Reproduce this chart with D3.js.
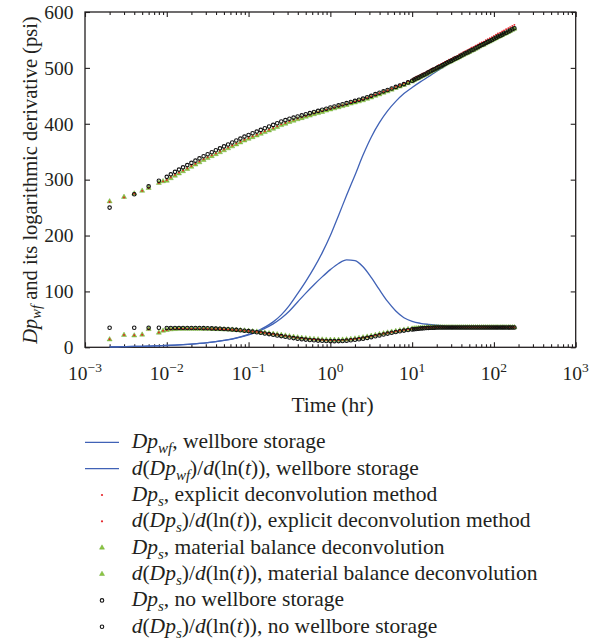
<!DOCTYPE html>
<html><head><meta charset="utf-8">
<script src="https://cdn.jsdelivr.net/npm/d3@7"></script>
<style>
body{margin:0;background:#fff}
svg{display:block}
text{font-family:"Liberation Serif","Times New Roman",serif;fill:#231f20}
</style>
</head><body>
<svg id="chart" width="599" height="644"></svg>
<script>
// ---------- data ----------
const times = [
  0.002, 0.003, 0.004, 0.005, 0.006, 0.008, 0.009,
  0.01, 0.0112, 0.0126, 0.0141, 0.0158, 0.0178, 0.02, 0.0224, 0.0251, 0.0282,
  0.0316, 0.0355, 0.0398, 0.0447, 0.0501, 0.0562, 0.0631, 0.0708, 0.0794, 0.0891,
  0.1, 0.112, 0.126, 0.141, 0.158, 0.178, 0.2, 0.224, 0.251, 0.282,
  0.316, 0.355, 0.398, 0.447, 0.501, 0.562, 0.631, 0.708, 0.794, 0.891,
  1, 1.12, 1.26, 1.41, 1.58, 1.78, 2, 2.24, 2.51, 2.82,
  3.16, 3.55, 3.98, 4.47, 5.01, 5.62, 6.31, 7.08, 7.94, 8.91,
  10,
  10.6, 11.2, 11.9, 12.6, 13.3, 14.1, 15, 15.8, 16.8, 17.8,
  18.8, 20, 21.1, 22.4, 23.7, 25.1, 26.6, 28.2, 29.9, 31.6,
  33.5, 35.5, 37.6, 39.8, 42.2, 44.7, 47.3, 50.1, 53.1, 56.2,
  59.6, 63.1, 66.8, 70.8, 75, 79.4, 84.1, 89.1, 94.4, 100,
  106, 112, 119, 126, 133, 141, 150, 158, 168, 178
];

// Dp_s, no wellbore storage (black circles)
const dpNoStorage = [
  250, null, 274, null, 288, 298, null,
  305, 309.5, 314, 318, 322, 326, 330, 334, 338, 342,
  345.5, 349, 352.5, 356, 359.5, 363, 366.5, 370, 373.5, 377,
  380, 383, 386, 389, 392, 395, 398, 401, 404, 406.5,
  409, 411, 413, 415, 417, 419, 421, 423, 425, 427,
  429, 431, 433, 435, 437, 439, 441, 443, 445, 447.5,
  450, 453, 455.5, 458, 460.5, 463, 466, 468.5, 471, 474,
  477,
  479, 481, 482.5, 484.5, 486.5, 488, 490, 492, 494, 496,
  497.5, 499.5, 501.5, 503, 505, 507, 509, 511, 512.5, 514.5,
  516.5, 518, 520, 522, 524, 526, 527.5, 529.5, 531.5, 533,
  535, 537, 539, 541, 542.5, 544.5, 546.5, 548, 550, 552,
  554, 556, 557.5, 559.5, 561.5, 563, 565, 567, 569, 571
];
// d(Dp_s)/d(ln t), no wellbore storage
const derivNoStorage = [
  35, null, 35, null, 35, 35, null,
  34.5, 34.5, 34.5, 34.5, 34.5, 34.5, 34.5, 34.5, 34.5, 34.3,
  34, 33.8, 33.5, 33.2, 32.8, 32.3, 31.8, 31.2, 30.5, 29.7,
  29, 28, 27, 26, 24.8, 23.6, 22.4, 21.2, 20, 18.8,
  17.6, 16.5, 15.5, 14.6, 13.8, 13.1, 12.5, 12, 11.6, 11.3,
  11.1, 11, 11.1, 11.4, 11.9, 12.6, 13.4, 14.4, 15.5, 16.8,
  18.2, 19.7, 21.3, 22.9, 24.5, 26, 27.4, 28.7, 29.9, 31,
  32,
  32.4, 32.8, 33.2, 33.6, 33.9, 34.2, 34.5, 34.7, 34.9, 35.1,
  35.2, 35.3, 35.4, 35.5, 35.5, 35.5, 35.5, 35.5, 35.5, 35.5,
  35.5, 35.5, 35.5, 35.5, 35.5, 35.5, 35.5, 35.5, 35.5, 35.5,
  35.5, 35.5, 35.5, 35.5, 35.5, 35.5, 35.5, 35.5, 35.5, 35.5,
  35.5, 35.5, 35.5, 35.5, 35.5, 35.5, 35.5, 35.5, 35.5, 35.5
];

// Dp_s, material balance deconvolution (green triangles)
const dpMatBal = [
  261, 269, 275, 280, 285, 294, 297,
  298, 302.5, 307, 311, 315, 319, 323, 327, 331, 335,
  338.5, 342, 345.5, 349, 352.5, 356, 359.5, 363, 366.5, 370,
  373, 376, 379, 382, 385, 388, 391, 394, 397.5, 400,
  403, 405.5, 408, 410, 412.5, 414.5, 417, 419, 421, 423.5,
  425.5, 427.5, 429.5, 431.5, 433.5, 436, 438, 440, 442, 444.5,
  447, 450, 452.5, 455.5, 458, 461, 464, 466.5, 469.5, 472.5,
  475.5,
  478, 480, 481.5, 483.5, 485.5, 487, 489, 491, 493, 495,
  496.5, 498.5, 500.5, 502, 504, 506, 508, 510, 511.5, 513.5,
  515.5, 517, 519, 521, 523, 525, 526.5, 528.5, 530.5, 532,
  534, 536, 538, 540, 541.5, 543.5, 545.5, 547, 549, 551,
  553, 555, 556.5, 558.5, 560.5, 562, 564, 566, 568, 570
];
const derivMatBal = [
  14, 22, 21, 22.5, 32.5, 26, 29.5,
  31, 32, 32.5, 33, 33, 33, 33, 33, 33, 33,
  33, 32.8, 32.6, 32.4, 32.1, 31.8, 31.4, 31, 30.5, 30,
  29.4, 28.6, 27.8, 27, 26, 25, 24, 23, 22, 20.8,
  19.7, 18.6, 17.6, 16.7, 15.9, 15.2, 14.6, 14.1, 13.7, 13.4,
  13.2, 13.1, 13.2, 13.5, 14, 14.7, 15.5, 16.5, 17.6, 18.9,
  20.3, 21.8, 23.3, 24.8, 26.3, 27.7, 29, 30.2, 31.3, 32.3,
  33.2,
  33.6, 34, 34.3, 34.6, 34.9, 35.1, 35.3, 35.5, 35.6, 35.7,
  35.8, 35.8, 35.8, 35.8, 35.8, 35.8, 35.8, 35.8, 35.8, 35.8,
  35.8, 35.8, 35.8, 35.8, 35.8, 35.8, 35.8, 35.8, 35.8, 35.8,
  35.8, 35.8, 35.8, 35.8, 35.8, 35.8, 35.8, 35.8, 35.8, 35.8,
  35.8, 35.8, 35.8, 35.8, 35.8, 35.8, 35.8, 35.8, 35.8, 35.8
];

// Dp_s, explicit deconvolution method (red dots)
const dpExplicit = [
  260, 268, 275, 280, 285, 294, 297,
  299.5, 304, 308.5, 312.5, 316.5, 320.5, 324.5, 328.5, 332.5, 336.5,
  340, 343.5, 347, 350.5, 354, 357.5, 361, 364.5, 368, 371.5,
  374.5, 377.5, 380.5, 383.5, 386.5, 389.5, 392.5, 395.5, 399, 401.5,
  404.5, 407, 409.5, 411.5, 414, 416, 418.5, 420.5, 422.5, 425,
  427, 429, 431, 433, 435, 437.5, 439.5, 441.5, 443.5, 446,
  449, 452, 454.5, 457.5, 460, 463, 466.5, 469.5, 472.5, 476,
  479.5,
  482, 484, 485.5, 487.5, 489.5, 491, 493, 495, 497, 499,
  500.5, 502.5, 505, 506.5, 508.5, 510.5, 512.5, 514.5, 516, 518,
  520, 521.5, 524, 526, 528, 530, 531.5, 533.5, 536, 537.5,
  539.5, 541.5, 543.5, 545.5, 547, 549.5, 551.5, 553, 555, 557,
  559.5, 561.5, 563, 565, 567, 569, 571, 573, 575, 577
];
const derivExplicit = [
  14.5, 22, 21.5, 22.5, 32, 26.5, 29.5,
  31, 32, 32.5, 32.8, 33, 33, 33, 33, 33, 32.9,
  32.8, 32.6, 32.4, 32.2, 31.9, 31.6, 31.2, 30.8, 30.3, 29.8,
  29.2, 28.4, 27.6, 26.8, 25.8, 24.8, 23.8, 22.8, 21.8, 20.6,
  19.5, 18.4, 17.4, 16.5, 15.7, 15, 14.4, 13.9, 13.5, 13.2,
  13, 12.9, 13, 13.3, 13.8, 14.5, 15.3, 16.3, 17.4, 18.7,
  20.1, 21.6, 23.1, 24.6, 26.1, 27.5, 28.8, 30, 31.1, 32.1,
  33,
  33.4, 33.8, 34.2, 34.5, 34.8, 35, 35.2, 35.4, 35.5, 35.6,
  35.7, 35.7, 35.7, 35.7, 35.7, 35.7, 35.7, 35.7, 35.7, 35.7,
  35.7, 35.7, 35.7, 35.7, 35.7, 35.7, 35.7, 35.7, 35.7, 35.7,
  35.7, 35.7, 35.7, 35.7, 35.7, 35.7, 35.7, 35.7, 35.7, 35.7,
  35.7, 35.7, 35.7, 35.7, 35.7, 35.7, 35.7, 35.7, 35.7, 35.7
];

// wellbore-storage curves (blue lines)
const wbsTimes = [
  0.002, 0.0025, 0.00316, 0.00398, 0.00501, 0.00631, 0.00794,
  0.01, 0.0126, 0.0158, 0.02, 0.0251, 0.0316, 0.0398, 0.0501, 0.0631, 0.0794,
  0.1, 0.126, 0.158, 0.2, 0.251, 0.316, 0.398, 0.501, 0.631, 0.794,
  1, 1.26, 1.58, 2, 2.51, 3.16, 3.98, 5.01, 6.31, 7.94,
  10, 12.6, 15.8, 20, 25.1, 31.6, 39.8, 50.1, 63.1, 79.4,
  100, 126, 158, 178
];
const wbsDp = [
  0.8, 1.0, 1.2, 1.5, 1.8, 2.2, 2.7,
  3.2, 3.9, 4.7, 5.7, 7, 8.5, 10.3, 12.5, 15, 18.5,
  23, 28.5, 36, 45.5, 58, 75, 96, 118, 142, 169,
  200, 236, 272, 308, 344, 376, 402, 423, 440, 454,
  465, 475, 484, 494, 503, 511.5, 520, 528, 536, 544,
  551.5, 559, 566.5, 570
];
const wbsDeriv = [
  0.8, 1.0, 1.2, 1.5, 1.8, 2.2, 2.7,
  3.2, 3.9, 4.7, 5.7, 6.9, 8.4, 10.2, 12.3, 14.7, 18,
  22.3, 27.5, 34, 42, 52, 65, 81, 97, 112, 126,
  139, 150, 156.5, 155, 144, 125, 103, 82, 65, 53,
  46.5, 43, 41, 39.5, 38.3
];

const xTickExponents = [-3, -2, -1, 0, 1, 2, 3];
const yTickValues = [0, 100, 200, 300, 400, 500, 600];

// ---------- drawing ----------
const svg = d3.select("#chart");
const L = 85, R = 575.7, T = 12, B = 347.3;
const x = d3.scaleLog().domain([1e-3, 1e3]).range([L, R]);
const y = d3.scaleLinear().domain([0, 600]).range([B, T]);
const ink = "#231f20";
const blue = "#4062b6";

// minor tick positions for the log axis
const minorTicks = [];
for (let e = -3; e < 3; e++) for (let k = 2; k <= 9; k++) minorTicks.push(k * Math.pow(10, e));
const majorTicks = xTickExponents.map(e => Math.pow(10, e));

function tickAxis(gen, vals, size, tr) {
  const g = svg.append("g").attr("transform", tr)
    .call(gen.tickValues(vals).tickSize(size).tickFormat(""));
  g.select(".domain").remove();
  g.selectAll("line").attr("stroke", ink).attr("stroke-width", 1.1);
  g.selectAll("text").remove();
}
tickAxis(d3.axisBottom(x), majorTicks, -5, `translate(0,${B})`);
tickAxis(d3.axisBottom(x), minorTicks, -3, `translate(0,${B})`);
tickAxis(d3.axisTop(x), majorTicks, -5, `translate(0,${T})`);
tickAxis(d3.axisTop(x), minorTicks, -3, `translate(0,${T})`);
tickAxis(d3.axisLeft(y), yTickValues, -5, `translate(${L},0)`);
tickAxis(d3.axisRight(y), yTickValues, -5, `translate(${R},0)`);

svg.append("rect").attr("x", L).attr("y", T).attr("width", R - L).attr("height", B - T)
  .attr("fill", "none").attr("stroke", ink).attr("stroke-width", 1.3);

// y tick labels
svg.append("g").selectAll("text").data(yTickValues).join("text")
  .attr("x", 73.5).attr("y", d => y(d)).attr("dy", "0.35em")
  .attr("text-anchor", "end").attr("font-size", 19.5).text(d => d);

// x tick labels 10^n
const xl = svg.append("g").selectAll("text").data(xTickExponents).join("text")
  .attr("x", d => x(Math.pow(10, d))).attr("y", 380)
  .attr("text-anchor", "middle").attr("font-size", 19.5);
xl.append("tspan").text("10");
xl.append("tspan").attr("dy", -8).attr("font-size", 13.5).text(d => d < 0 ? "\u2212" + (-d) : String(d));

// axis titles
svg.append("text").attr("x", 332.5).attr("y", 412).attr("text-anchor", "middle")
  .attr("font-size", 21.5).text("Time (hr)");

const yt = svg.append("text").attr("transform", "translate(36.5,180) rotate(-90)")
  .attr("text-anchor", "middle").attr("font-size", 20.5);
yt.append("tspan").attr("font-style", "italic").text("Dp");
yt.append("tspan").attr("font-style", "italic").attr("font-size", 14.5).attr("dy", 4.5).text("wf");
yt.append("tspan").attr("dy", -4.5).text(" and its logarithmic derivative (psi)");

// series
const pts = (vals) => times.map((t, i) => ({t, v: vals[i]})).filter(d => d.v != null && d.v !== undefined);

const line = d3.line().x(d => x(d.t)).y(d => y(d.v)).curve(d3.curveMonotoneX);
const plot = svg.append("g");
plot.append("path").datum(wbsTimes.map((t, i) => ({t, v: wbsDp[i]})))
  .attr("d", line).attr("fill", "none").attr("stroke", blue).attr("stroke-width", 1.3);
plot.append("path").datum(wbsDeriv.map((v, i) => ({t: wbsTimes[i], v})))
  .attr("d", line).attr("fill", "none").attr("stroke", blue).attr("stroke-width", 1.3);

const tri = d3.symbol().type(d3.symbolTriangle).size(11)();
function drawTri(vals) {
  plot.append("g").selectAll("path").data(pts(vals)).join("path")
    .attr("d", tri).attr("transform", d => `translate(${x(d.t)},${y(d.v)})`)
    .attr("fill", "#8cc63f").attr("stroke", "#63a22e").attr("stroke-width", 0.4);
}
function drawDot(vals) {
  plot.append("g").selectAll("circle").data(pts(vals)).join("circle")
    .attr("cx", d => x(d.t)).attr("cy", d => y(d.v)).attr("r", 0.95).attr("fill", "#e5232a");
}
function drawCirc(vals) {
  plot.append("g").selectAll("circle").data(pts(vals)).join("circle")
    .attr("cx", d => x(d.t)).attr("cy", d => y(d.v)).attr("r", 1.75)
    .attr("fill", "none").attr("stroke", "#111").attr("stroke-width", 1.1);
}
drawTri(dpMatBal); drawTri(derivMatBal);
drawDot(dpExplicit); drawDot(derivExplicit);
drawCirc(dpNoStorage); drawCirc(derivNoStorage);

// legend
const legendItems = [
  {m: "line", s: [["Dp", "i"], ["wf", "sub"], [", wellbore storage", "r"]]},
  {m: "line", s: [["d", "i"], ["(", "r"], ["Dp", "i"], ["wf", "sub"], [")/", "r"], ["d", "i"], ["(ln(", "r"], ["t", "i"], [")), wellbore storage", "r"]]},
  {m: "dot", s: [["Dp", "i"], ["s", "sub"], [", explicit deconvolution method", "r"]]},
  {m: "dot", s: [["d", "i"], ["(", "r"], ["Dp", "i"], ["s", "sub"], [")/", "r"], ["d", "i"], ["(ln(", "r"], ["t", "i"], [")), explicit deconvolution method", "r"]]},
  {m: "tri", s: [["Dp", "i"], ["s", "sub"], [", material balance deconvolution", "r"]]},
  {m: "tri", s: [["d", "i"], ["(", "r"], ["Dp", "i"], ["s", "sub"], [")/", "r"], ["d", "i"], ["(ln(", "r"], ["t", "i"], [")), material balance deconvolution", "r"]]},
  {m: "circ", s: [["Dp", "i"], ["s", "sub"], [", no wellbore storage", "r"]]},
  {m: "circ", s: [["d", "i"], ["(", "r"], ["Dp", "i"], ["s", "sub"], [")/", "r"], ["d", "i"], ["(ln(", "r"], ["t", "i"], [")), no wellbore storage", "r"]]}
];
const lg = svg.append("g");
legendItems.forEach((it, i) => {
  const ry = 442.3 + i * 26.35;
  if (it.m === "line") lg.append("line").attr("x1", 85).attr("x2", 119).attr("y1", ry).attr("y2", ry)
    .attr("stroke", blue).attr("stroke-width", 1.3);
  if (it.m === "dot") lg.append("circle").attr("cx", 102).attr("cy", ry).attr("r", 1.1).attr("fill", "#e5232a");
  if (it.m === "tri") lg.append("path").attr("d", tri).attr("transform", `translate(102,${ry})`)
    .attr("fill", "#8cc63f").attr("stroke", "#63a22e").attr("stroke-width", 0.4);
  if (it.m === "circ") lg.append("circle").attr("cx", 102).attr("cy", ry).attr("r", 1.75)
    .attr("fill", "none").attr("stroke", "#111").attr("stroke-width", 1.1);
  const t = lg.append("text").attr("x", 131.7).attr("y", ry + 6).attr("font-size", 21.5);
  let shifted = false;
  it.s.forEach(([str, st]) => {
    const ts = t.append("tspan").text(str);
    if (st === "i") ts.attr("font-style", "italic");
    if (st === "sub") { ts.attr("font-style", "italic").attr("font-size", 15).attr("dy", 5); shifted = true; }
    else if (shifted) { ts.attr("dy", -5); shifted = false; }
  });
});
</script>
</body></html>
